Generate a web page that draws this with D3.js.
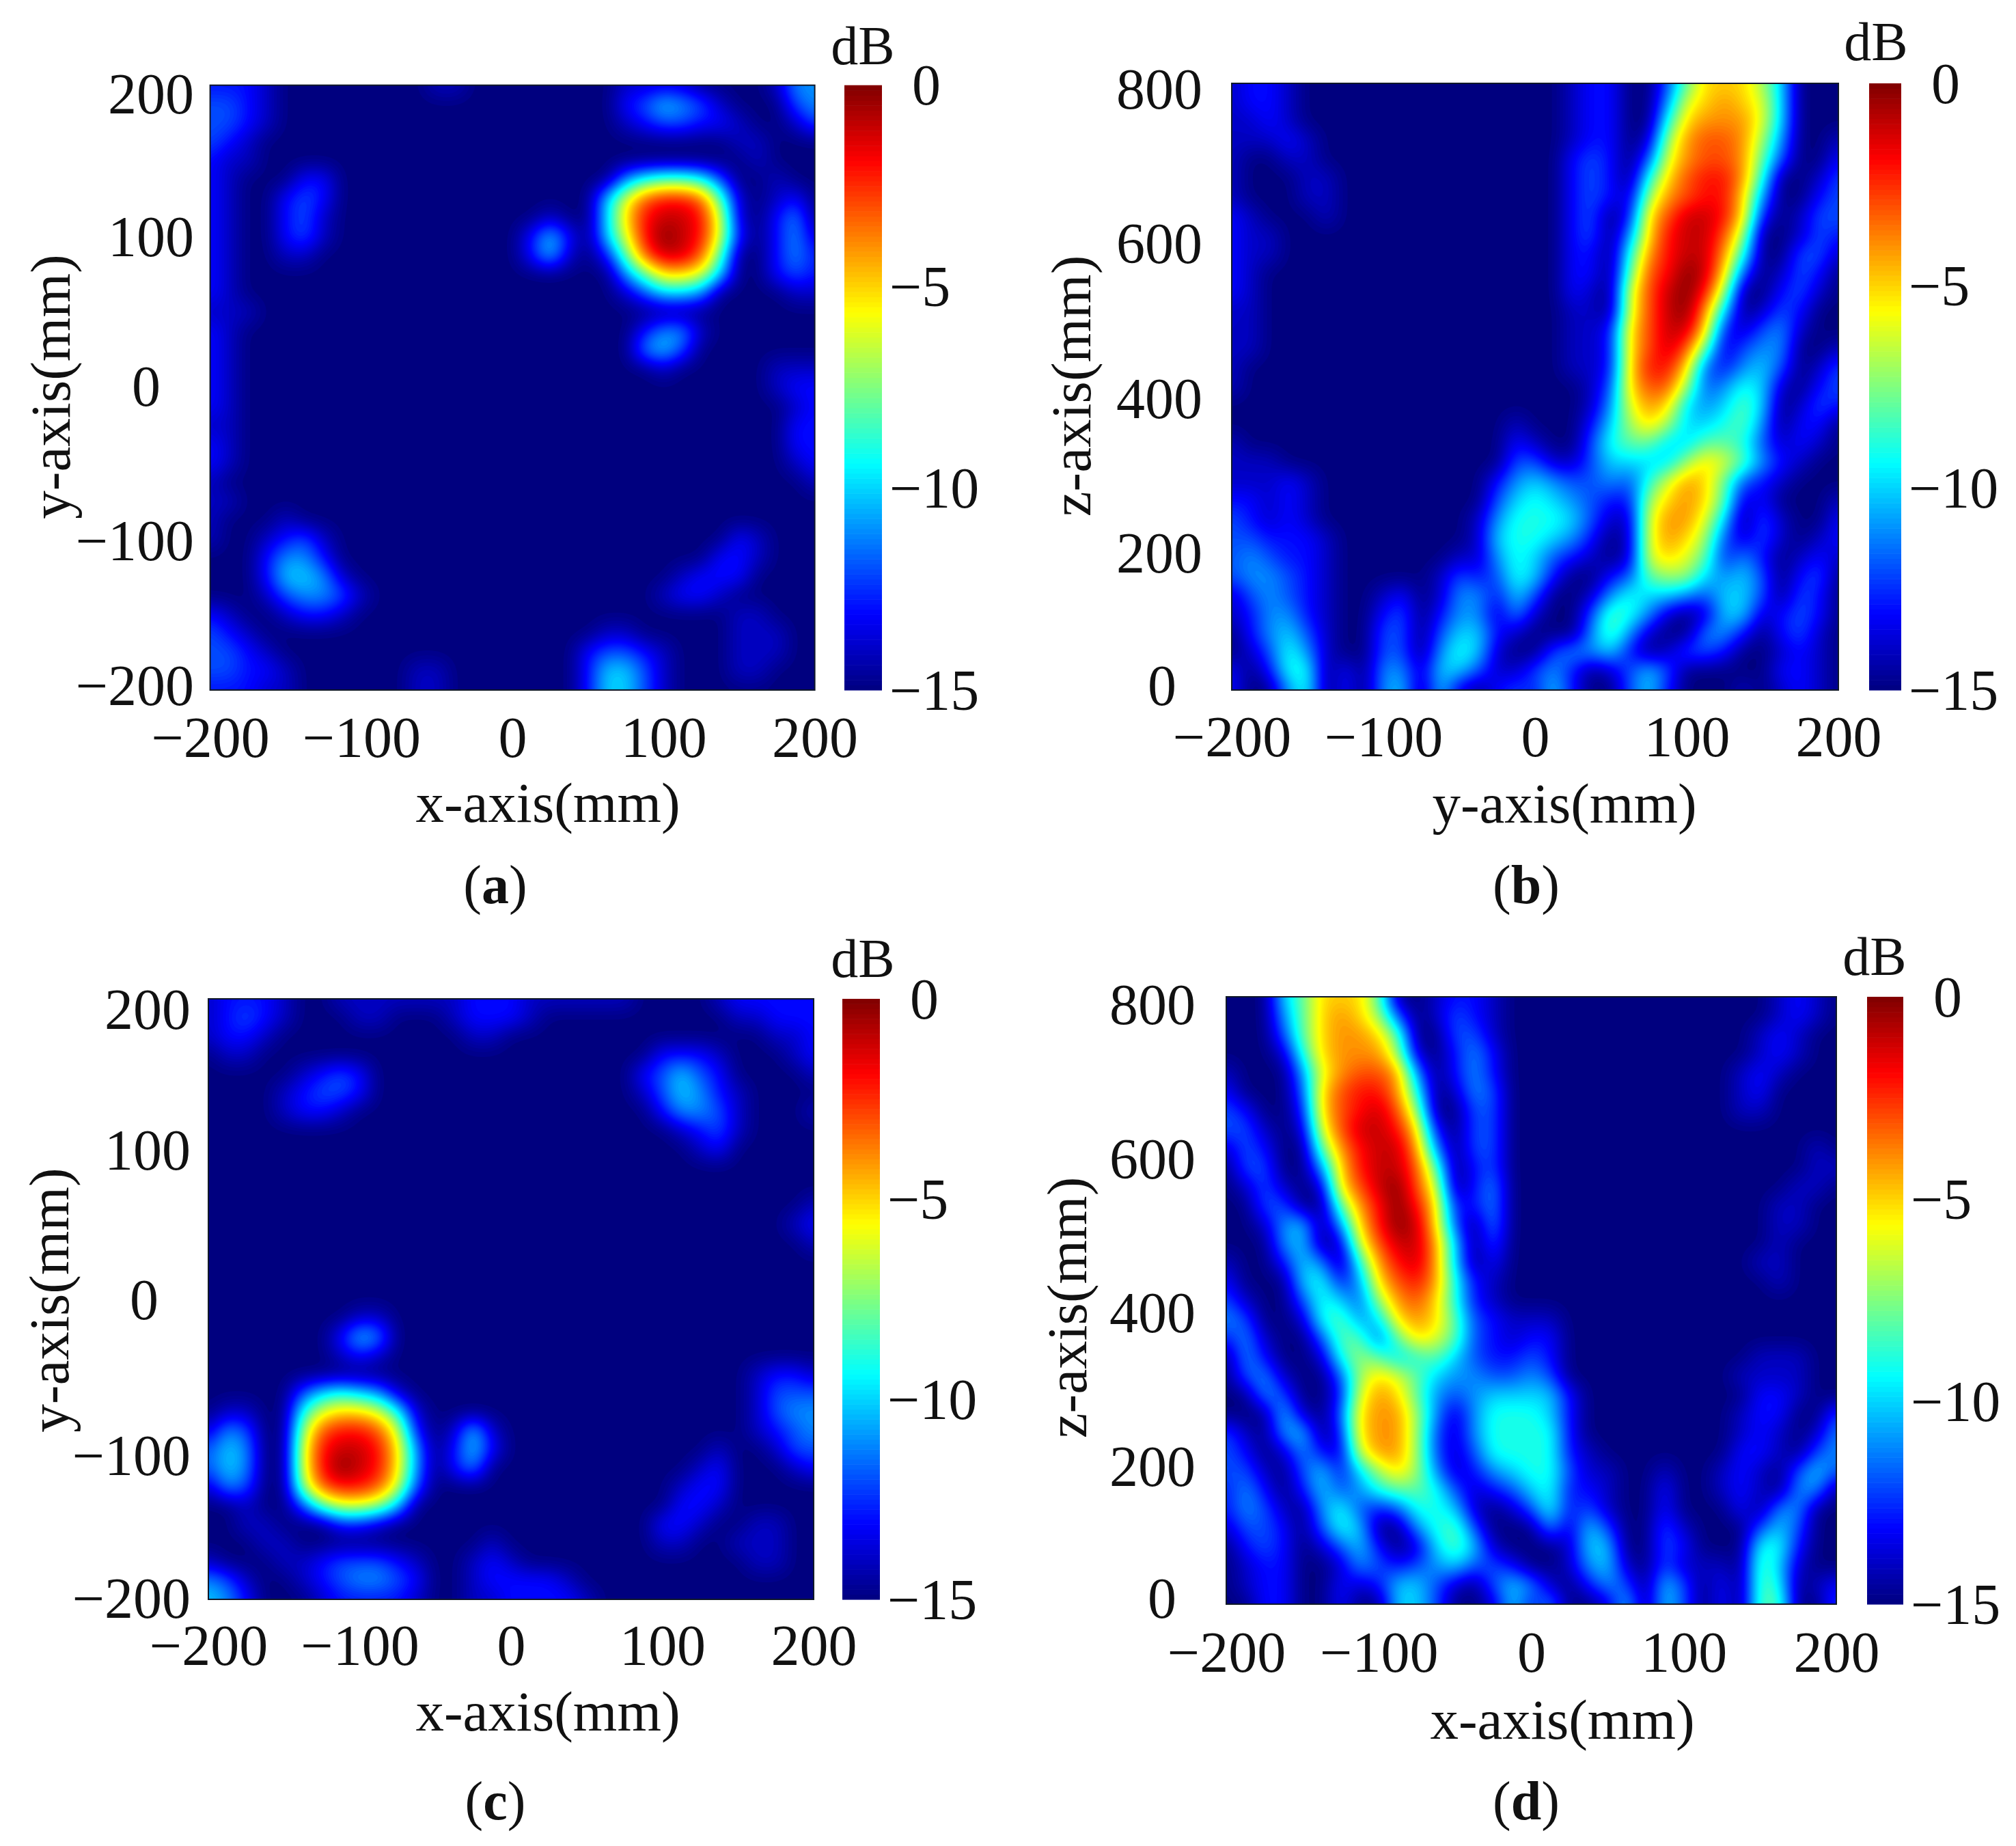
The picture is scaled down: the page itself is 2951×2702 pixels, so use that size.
<!DOCTYPE html>
<html>
<head>
<meta charset="utf-8">
<script src="https://cdnjs.cloudflare.com/ajax/libs/d3/7.8.5/d3.min.js"></script>
<style>
html,body{margin:0;padding:0;background:#fff}
text{font-family:"Liberation Serif",serif;fill:#111}
</style>
</head>
<body>
<script>
// level tables: one hex digit per cell, digit = dB below peak (f = -15 or lower)
var heatA = [
"dddefffffff"+"feeffffffff"+"eeeeffffebb",
"ccdefffffff"+"fffffffffff"+"dcabcefffcb",
"ccdefffffff"+"fffffffffff"+"edccddeffec",
"cdeffffffff"+"fffffffffff"+"ffffffeefff",
"deeffffffff"+"fffffffffff"+"fffffffefff",
"defffddffff"+"fffffffffff"+"b9889cffeff",
"deffdcdffff"+"ffffffffffa"+"632238efedf",
"deffdceffff"+"fffffffeffa"+"521126efdbf",
"deffdceffff"+"ffffffdadfa"+"620126dfdbe",
"deffeefffff"+"ffffffdaefd"+"831138ffdbd",
"defffffffff"+"fffffffffff"+"b8556affdcd",
"defffffffff"+"fffffffffff"+"ecaabffffee",
"eeeffffffff"+"fffffffffff"+"fffffffffff",
"defffffffff"+"fffffffffff"+"fdbbeffffff",
"defffffffff"+"fffffffffff"+"fbacfffffff",
"defffffffff"+"fffffffffff"+"ffefffffeee",
"defffffffff"+"fffffffffff"+"ffffffffedd",
"defffffffff"+"fffffffffff"+"fffffffffed",
"eefffffffff"+"fffffffffff"+"fffffffffdd",
"defffffffff"+"fffffffffff"+"fffffffffdd",
"defffffffff"+"fffffffffff"+"fffffffffed",
"effffffffff"+"fffffffffff"+"ffffffffffe",
"eefffffffff"+"fffffffffff"+"fffffffffff",
"efffeffffff"+"fffffffffff"+"fffffffffff",
"effedceffff"+"fffffffffff"+"ffffffdefff",
"fffdbbdffff"+"fffffffffff"+"fffffddefff",
"fffdaabefff"+"fffffffffff"+"fffedddffff",
"fffecbbceff"+"fffffffffff"+"ffeddefffff",
"deffeddefff"+"fffffffffff"+"ffffffeefff",
"cdeffffffff"+"ffffffffffe"+"efffffeeeff",
"ccdefffffff"+"fffffffffdc"+"cdefffeeeff",
"ccddeffffff"+"eefffffffda"+"acefffeefff",
"dddeeffffff"+"eefffffffda"+"aceffffffff"
];
var heatB = [
"eddefffffff"+"fffffffeddf"+"fc85557afff",
"eddefffffff"+"fffffffeddf"+"fb65456afff",
"eedefffffff"+"fffffffeddf"+"f954446afff",
"eeedeffffff"+"fffffffeddf"+"e743347bffe",
"effeeffffff"+"fffffffdcdf"+"c643348cffd",
"efffeefffff"+"fffffffdcdf"+"9532249ffec",
"efffeefffff"+"fffffffdcde"+"743225bffdc",
"defffefffff"+"fffffffdcfd"+"531125dfecc",
"deeffffffff"+"fffffffdcfb"+"521137ffecd",
"deeffffffff"+"fffffffddf9"+"421149ffcce",
"defffffffff"+"fffffffddf8"+"32015cfecdf",
"defffffffff"+"fffffffdef6"+"31027ffdcef",
"eefffffffff"+"fffffffeef6"+"3104afecdff",
"eefffffffff"+"fffffffeed5"+"3115decbeff",
"eefffffffff"+"fffffffeed5"+"3138ecbbffe",
"effffffffff"+"fffffffeed5"+"225cdbacfec",
"effffffffff"+"ffffffffec5"+"337cb9aefdc",
"fffffffffff"+"ffffffffeb6"+"45aba8afecd",
"fffffffffff"+"ffffefffda7"+"57aa98bfddf",
"effffffffff"+"ffffdeffc98"+"8aa889cedef",
"eeeffffffff"+"ffffcceecaa"+"aa7568bdeff",
"eeedeffffff"+"fffdbabccbc"+"96458cdefff",
"ddedeffffff"+"fffca9abcdd"+"75458edfffe",
"cdedeffffff"+"ffeb999acee"+"6446afceffd",
"ccdddefffff"+"ffea99abdfe"+"6457cecefed",
"cbcddefffff"+"feeb9acdefe"+"6568dbdfede",
"cbbcdefffff"+"ecdc9adffdc"+"877abacfdcf",
"ecbcdeffedf"+"ebbdacffeb9"+"aabcaacfcdf",
"edbbdeffdcf"+"dbbebeffc89"+"befeaaedcdf",
"fdbaceffccf"+"caadefffb8b"+"effbbdfdcef",
"fec9beffccf"+"b9aeffcbbad"+"feccdffedef",
"dfd99fdfbbe"+"aaceecbdfec"+"acfffffddef",
"dffb9fdfbaf"+"aefdcdadffc"+"adfffefedef"
];
var heatC = [
"edddeffeeee"+"eeedddeeeee"+"effffeddddd",
"edcdefffeef"+"ffedddeffff"+"ffffffeeddd",
"eddefffffff"+"fffeeffffff"+"ffffffffeed",
"feeffffffff"+"fffffffffff"+"ffdddefffed",
"fffffedcdff"+"fffffffffff"+"fdcacdffffe",
"ffffedccdff"+"fffffffffff"+"fecabdeffff",
"ffffeddefff"+"fffffffffff"+"ffdbbcefffe",
"fffffffffff"+"fffffffffff"+"fffedceffff",
"fffffffffff"+"fffffffffff"+"ffffedfffff",
"fffffffffff"+"fffffffffff"+"fffffffffff",
"fffffffffff"+"fffffffffff"+"fffffffffff",
"fffffffffff"+"fffffffffff"+"ffffffffffe",
"fffffffffff"+"fffffffffff"+"fffffffffed",
"fffffffffff"+"fffffffffff"+"ffffffffffe",
"fffffffffff"+"fffffffffff"+"fffffffffff",
"fffffffffff"+"fffffffffff"+"fffffffffff",
"fffffffffff"+"fffffffffff"+"fffffffffff",
"ffffffffeef"+"fffffffffff"+"fffffffffff",
"fffffffdabf"+"fffffffffff"+"fffffffffff",
"fffffffedef"+"fffffffffff"+"fffffffffff",
"fffffffffff"+"fffffffffff"+"fffffffedde",
"fffffca9abe"+"fffffffffff"+"fffffffeccc",
"feeff965569"+"effffffffff"+"fffffffecbb",
"ebcff732236"+"dfeaeffffff"+"fffffffedcb",
"cabff621125"+"bfdadffffff"+"fffffeffecc",
"cabff620125"+"bfdbfffffff"+"ffffedfffed",
"ebcff732236"+"cffffffffff"+"fffeddfffff",
"ffeffc8667a"+"fffffffffff"+"fffddefffff",
"ffeefffddef"+"fffffffffff"+"ffddeffeeff",
"fffeeffffff"+"ffffeffffff"+"ffeeffeeeff",
"efffeedcccd"+"effedefffff"+"fffffffeeff",
"bceffedcbbc"+"dffeddddeff"+"fffffffffff",
"abdfffedddd"+"effeeddddef"+"fffffffffff"
];
var heatD = [
"fffa85558ff"+"eddefffffff"+"fffffffedef",
"fffb85457cf"+"ecdefffffff"+"fffffffedef",
"fffc854458f"+"fccefffffff"+"ffffffedeff",
"fffe954447e"+"fdbdfffffff"+"ffffffedeff",
"efffb64334b"+"fdbdfffffff"+"fffffedefff",
"dfffc532249"+"febcfffffff"+"fffffedffff",
"cdffd532137"+"ffccfffffff"+"fffffeeffff",
"ccefe631125"+"dfccfffffff"+"fffffffffff",
"ecdff842114"+"bfccfffffff"+"fffffffffef",
"fccffb52113"+"8fdcfffffff"+"fffffffffee",
"fecefe53103"+"6fdbfffffff"+"ffffffffeef",
"ffccff84202"+"5ddbfffffff"+"fffffffeeff",
"ffebafb5201"+"5cfbfffffff"+"fffffffeeff",
"fffbafe6311"+"4afcfffffff"+"fffffffefff",
"effdabf9421"+"4afdfffffff"+"ffffffeefff",
"dfffa9db532"+"49defffffff"+"fffffffefff",
"ceffc9ac743"+"59defffffff"+"fffffffffff",
"bcffe98ba54"+"58cdeeeffff"+"fffffffffff",
"dbeffc88c85"+"68cdeddffff"+"fffffffffff",
"fbdffe978a9"+"8acddcdffff"+"ffffffeeeff",
"fcbeffc7568"+"abbccbcffff"+"fffffeeeeff",
"ffbcffd6458"+"bcbaaaadfff"+"ffffffddeff",
"fffaefc5447"+"beb999adfff"+"fffffeddffc",
"cefbafd5447"+"ceb9999dfff"+"fffffedefeb",
"cdfebde6447"+"cec9999deff"+"fffffddefcb",
"ccefcada757"+"bedba99ceef"+"feffedefcac",
"dbdfdacb988"+"9cedca9ddef"+"fdffedefbbf",
"dbcefb9cdc9"+"9aefec9dcef"+"fdfffdfbbff",
"eccdfc9affb"+"98cfffbeacf"+"fcefffcacff",
"fdcdfecadfe"+"a8aefffeaaf"+"fcdfff99dff",
"feddffebcdc"+"baccdffebae"+"fceeef8aeff",
"feddffdedaa"+"cefcabefdbc"+"facfdf89fed",
"ffddffdffaa"+"cffeadbffea"+"facfdf88ffc"
];

var xTicks = [-200,-100,0,100,200];
var yTicksFlat = [-200,-100,0,100,200];
var zTicks = [0,200,400,600,800];
var barTicks = [0,-5,-10,-15];
var panelNames = ["(a)","(b)","(c)","(d)"];
var xLabels = ["x-axis(mm)","y-axis(mm)","x-axis(mm)","x-axis(mm)"];
var yLabels = ["y-axis(mm)","z-axis(mm)","y-axis(mm)","z-axis(mm)"];

var W = 2951, H = 2702, fontSize = 84, upsample = 8;

var jet = d3.scaleLinear()
    .domain([-15,-13.125,-9.375,-5.625,-1.875,0])
    .range(["#00007f","#0000ff","#00ffff","#ffff00","#ff0000","#7f0000"])
    .clamp(true);

var svg = d3.select("body").append("svg")
    .attr("width", W).attr("height", H)
    .style("display","block");

// pixel layout per panel, the tick label shifts follow the uneven labels in the figure
var layout = [
  {grid:heatA, yDom:[-200,200], yTicks:yTicksFlat, box:[307.6,124.7,1192.6,1010], bar:[1236,1291], yRight:284, shift:[-7,3,-2,0,13], zeroDx:-49,
   xBase:1108, xLab:[802,1203], yLab:[102,566], tag:[725,1322], db:[1263,94]},
  {grid:heatB, yDom:[0,800], yTicks:zTicks, box:[1803,122,2691,1010], bar:[2736,2783], yRight:1760, shift:[-7,21,17,12,8], zeroDx:-38,
   xBase:1107, xLab:[2290,1204], yLab:[1596,565], tag:[2234,1322], db:[2746,88]},
  {grid:heatC, yDom:[-200,200], yTicks:yTicksFlat, box:[305,1462,1191,2341], bar:[1233,1288], yRight:279, shift:[-2,9,1,2,15], zeroDx:-47,
   xBase:2437, xLab:[802,2533], yLab:[100,1903], tag:[725,2663], db:[1263,1430]},
  {grid:heatD, yDom:[0,800], yTicks:zTicks, box:[1795,1459,2688,2348], bar:[2733,2786], yRight:1750, shift:[-9,21,18,15,11], zeroDx:-28,
   xBase:2447, xLab:[2287,2545], yLab:[1590,1914], tag:[2234,2663], db:[2744,1427]}
];

function toLevels(rows){
    return rows.map(function(r){
        return r.split("").map(function(c){ return -parseInt(c,16); });
    });
}

// resample the read-off table to a finer raster and soften it for the contour pass
function fineField(levels){
    var nr = levels.length, nc = levels[0].length;
    var fw = (nc-1)*upsample+1, fh = (nr-1)*upsample+1;
    var data = new Float64Array(fw*fh);
    for (var j = 0; j < fh; j++){
        var v = j/upsample, j0 = Math.min(Math.floor(v), nr-2), tv = v-j0;
        var rowA = d3.interpolateNumberArray(levels[j0], levels[j0+1])(tv);
        for (var i = 0; i < fw; i++){
            var u = i/upsample, i0 = Math.min(Math.floor(u), nc-2);
            data[j*fw+i] = d3.interpolateNumber(rowA[i0], rowA[i0+1])(u-i0);
        }
    }
    var field = {data:data, width:fw, height:fh};
    d3.blur2(field, 3);
    return field;
}

var step = 0.125;
var thresholds = d3.range(-15+step, 0, step);

layout.forEach(function(p, idx){
    var x = d3.scaleLinear().domain([-200,200]).range([p.box[0],p.box[2]]);
    var y = d3.scaleLinear().domain(p.yDom).range([p.box[3],p.box[1]]);
    var g = svg.append("g");

    svg.append("clipPath").attr("id","clip"+idx).append("rect")
        .attr("x",p.box[0]).attr("y",p.box[1])
        .attr("width",p.box[2]-p.box[0]).attr("height",p.box[3]-p.box[1]);

    var field = fineField(toLevels(p.grid));
    var fx = d3.scaleLinear().domain([0.5,field.width-0.5]).range(x.domain());
    var fy = d3.scaleLinear().domain([0.5,field.height-0.5]).range(y.domain().slice().reverse());
    var path = d3.geoPath(d3.geoTransform({point:function(a,b){
        this.stream.point(x(fx(a)), y(fy(b)));
    }}));
    var contours = d3.contours().size([field.width,field.height]).thresholds(thresholds)(field.data);

    var plot = g.append("g").attr("clip-path","url(#clip"+idx+")");
    plot.append("rect")
        .attr("x",p.box[0]).attr("y",p.box[1])
        .attr("width",p.box[2]-p.box[0]).attr("height",p.box[3]-p.box[1])
        .attr("fill",jet(-15));
    plot.selectAll("path").data(contours).enter().append("path")
        .attr("d",path)
        .attr("fill",function(d){ return jet(d.value+step/2); });
    g.append("rect")
        .attr("x",p.box[0]).attr("y",p.box[1])
        .attr("width",p.box[2]-p.box[0]).attr("height",p.box[3]-p.box[1])
        .attr("fill","none").attr("stroke","#101828").attr("stroke-width",2);

    // axes
    var xAxis = g.append("g").attr("transform","translate(0,"+p.xBase+")")
        .call(d3.axisBottom(x).tickValues(xTicks).tickSize(0));
    xAxis.select(".domain").remove();
    xAxis.selectAll("text").attr("y",0).attr("dy",0)
        .style("font-size",fontSize+"px").style("font-family","Liberation Serif").attr("fill","#111");

    var yAxis = g.append("g").attr("transform","translate("+p.yRight+",0)")
        .call(d3.axisLeft(y).tickValues(p.yTicks).tickSize(0).tickPadding(0));
    yAxis.select(".domain").remove();
    yAxis.selectAll("text")
        .attr("dy",function(d,i){ return 28+p.shift[i]; })
        .attr("dx",function(d){ return d === 0 ? p.zeroDx : 0; })
        .style("font-size",fontSize+"px").style("font-family","Liberation Serif").attr("fill","#111");

    g.append("text").attr("x",p.xLab[0]).attr("y",p.xLab[1])
        .attr("text-anchor","middle").style("font-size","83px").text(xLabels[idx]);
    g.append("text").attr("transform","translate("+p.yLab[0]+","+p.yLab[1]+") rotate(-90)")
        .attr("text-anchor","middle").style("font-size","83px").text(yLabels[idx]);

    var tag = g.append("text").attr("x",p.tag[0]).attr("y",p.tag[1])
        .attr("text-anchor","middle").style("font-size","80px");
    tag.append("tspan").text("(");
    tag.append("tspan").style("font-weight","bold").text(panelNames[idx].charAt(1));
    tag.append("tspan").text(")");

    // colour bar
    var by = d3.scaleLinear().domain([-15,0]).range([p.box[3],p.box[1]]);
    g.append("g").selectAll("rect").data(d3.range(-15,0,step)).enter().append("rect")
        .attr("x",p.bar[0]).attr("width",p.bar[1]-p.bar[0])
        .attr("y",function(d){ return by(d+step); })
        .attr("height",function(d){ return by(d)-by(d+step)+0.6; })
        .attr("fill",function(d){ return jet(d+step/2); });
    var barAxis = g.append("g").attr("transform","translate("+(p.bar[1]+11)+",0)")
        .call(d3.axisRight(by).tickValues(barTicks).tickSize(0).tickPadding(0));
    barAxis.select(".domain").remove();
    barAxis.selectAll("text").attr("dy",28)
        .attr("dx",function(d){ return d === 0 ? 33 : 0; })
        .style("font-size",fontSize+"px").style("font-family","Liberation Serif").attr("fill","#111");
    g.append("text").attr("x",p.db[0]).attr("y",p.db[1])
        .attr("text-anchor","middle").style("font-size","80px").text("dB");
});
</script>
</body>
</html>
